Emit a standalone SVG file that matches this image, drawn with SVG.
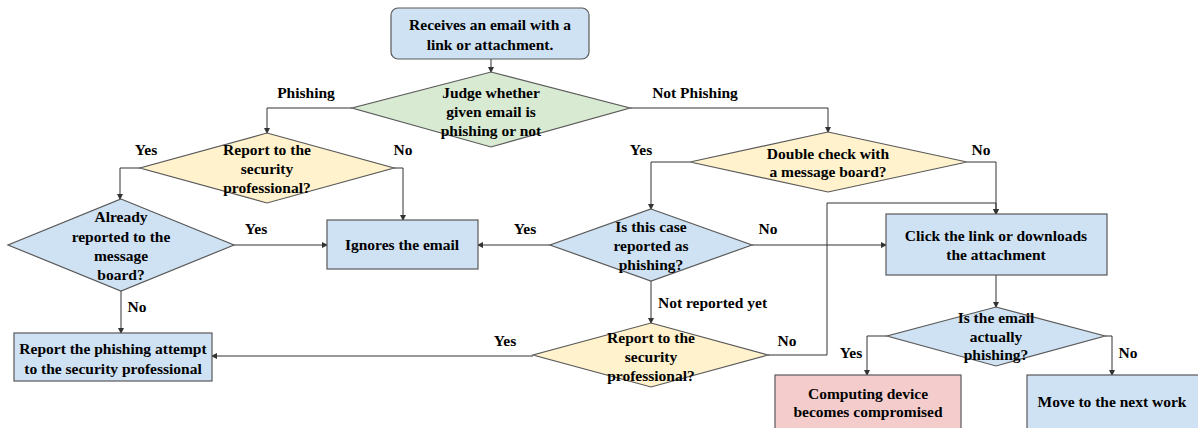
<svg xmlns="http://www.w3.org/2000/svg" width="1198" height="428" viewBox="0 0 1198 428" font-family="'Liberation Serif', 'Times New Roman', serif">
<style>
.n{stroke:#595959;stroke-width:1.2}
.blue{fill:#cfe2f3}.green{fill:#d9ead3}.yellow{fill:#fff2cc}.red{fill:#f4cccc}
text{font-family:"Liberation Serif","Times New Roman",serif;font-weight:bold;font-size:15.5px;fill:#000;text-anchor:middle}
.l{text-anchor:start}
.c{fill:none;stroke:#333;stroke-width:1;marker-end:url(#ah)}
</style>
<defs>
<marker id="ah" markerWidth="6" markerHeight="6" refX="5" refY="3" orient="auto" markerUnits="userSpaceOnUse">
<path d="M0,0 L6,3 L0,6 z" fill="#333"/>
</marker>
</defs>
<rect width="1198" height="428" fill="#fff"/>
<g id="connectors">
<path class="c" d="M491,59 V72"/>
<path class="c" d="M352,108 H267 V133"/>
<path class="c" d="M630,108 H828 V132"/>
<path class="c" d="M140,168 H120 V199"/>
<path class="c" d="M394,168 H403 V220"/>
<path class="c" d="M234,245 H327"/>
<path class="c" d="M121,291 V333"/>
<path class="c" d="M690,162 H651 V209"/>
<path class="c" d="M967,162 H996 V214"/>
<path class="c" d="M550,245 H478"/>
<path class="c" d="M752,245 H886"/>
<path class="c" d="M651,281 V323"/>
<path class="c" d="M533,356 H212"/>
<path class="c" d="M768,355 H827 V203 H996 V214"/>
<path class="c" d="M996,275 V307"/>
<path class="c" d="M887,336 H867 V375"/>
<path class="c" d="M1105,336 H1112 V375"/>
</g>
<g id="labels">
<text x="306" y="98">Phishing</text>
<text x="695" y="98">Not Phishing</text>
<text x="146" y="155">Yes</text>
<text x="403" y="155">No</text>
<text x="641" y="155">Yes</text>
<text x="981" y="155">No</text>
<text x="256" y="234">Yes</text>
<text x="525" y="234">Yes</text>
<text x="768" y="234">No</text>
<text x="137" y="312">No</text>
<text class="l" x="658" y="308">Not reported yet</text>
<text x="505" y="346">Yes</text>
<text x="787" y="346">No</text>
<text x="851" y="358">Yes</text>
<text x="1128" y="358">No</text>
</g>
<g id="start">
<rect class="n blue" x="391" y="8" width="198" height="51" rx="7"/>
<text x="490" y="30">Receives an email with a</text>
<text x="490" y="50">link or attachment.</text>
</g>
<g id="judge">
<polygon class="n green" points="491,72 630,108 491,147 352,108"/>
<text x="491" y="98">Judge whether</text>
<text x="491" y="117">given email is</text>
<text x="491" y="136">phishing or not</text>
</g>
<g id="report-q1">
<polygon class="n yellow" points="267,133 394,168 267,203 140,168"/>
<text x="267" y="155">Report to the</text>
<text x="267" y="174">security</text>
<text x="267" y="193">professional?</text>
</g>
<g id="already">
<polygon class="n blue" points="121,199 234,245 121,291 8,245"/>
<text x="121" y="222">Already</text>
<text x="121" y="242">reported to the</text>
<text x="121" y="261">message</text>
<text x="121" y="280">board?</text>
</g>
<g id="ignores">
<rect class="n blue" x="327" y="220" width="151" height="49"/>
<text x="402" y="250">Ignores the email</text>
</g>
<g id="report-box">
<rect class="n blue" x="14" y="333" width="198" height="48"/>
<text x="113" y="354">Report the phishing attempt</text>
<text x="113" y="374">to the security professional</text>
</g>
<g id="double-check">
<polygon class="n yellow" points="828,132 967,162 828,192 690,162"/>
<text x="828" y="159">Double check with</text>
<text x="828" y="177">a message board?</text>
</g>
<g id="is-reported">
<polygon class="n blue" points="651,209 752,245 651,281 550,245"/>
<text x="651" y="232">Is this case</text>
<text x="651" y="251">reported as</text>
<text x="651" y="270">phishing?</text>
</g>
<g id="report-q2">
<polygon class="n yellow" points="651,323 768,355 651,387 533,355"/>
<text x="651" y="343">Report to the</text>
<text x="651" y="362">security</text>
<text x="651" y="381">professional?</text>
</g>
<g id="click">
<rect class="n blue" x="886" y="214" width="221" height="61"/>
<text x="996" y="241">Click the link or downloads</text>
<text x="996" y="260">the attachment</text>
</g>
<g id="actually">
<polygon class="n blue" points="996,307 1105,336 996,366 887,336"/>
<text x="996" y="323">Is the email</text>
<text x="996" y="342">actually</text>
<text x="996" y="360">phishing?</text>
</g>
<g id="compromised">
<rect class="n red" x="775" y="375" width="186" height="60"/>
<text x="868" y="399">Computing device</text>
<text x="868" y="417">becomes compromised</text>
</g>
<g id="next-work">
<rect class="n blue" x="1027" y="375" width="175" height="60"/>
<text x="1112" y="407">Move to the next work</text>
</g>
</svg>
